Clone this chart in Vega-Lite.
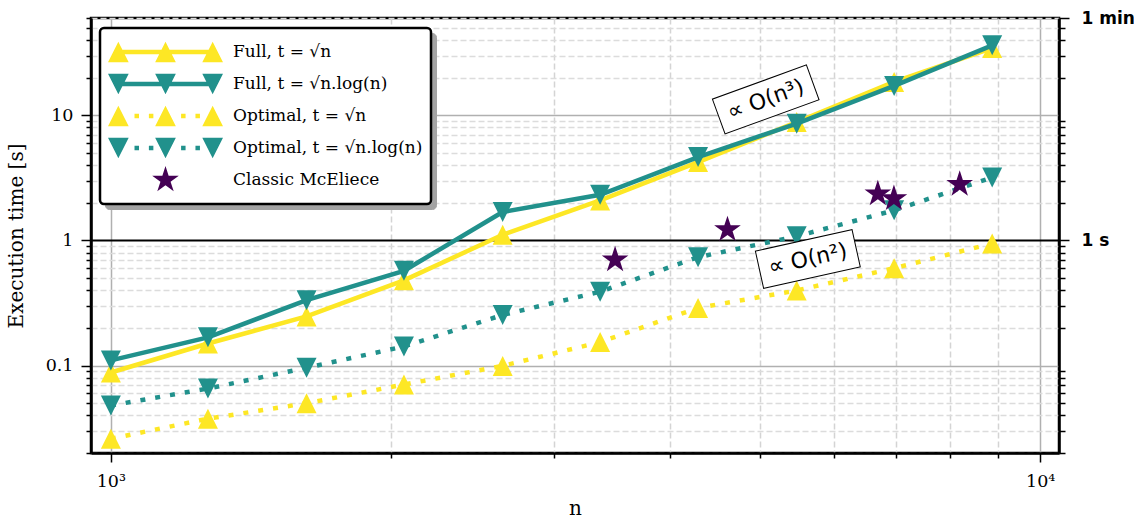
{
  "$schema": "https://vega.github.io/schema/vega-lite/v6.json",
  "width": 968,
  "height": 435,
  "autosize": {"type": "none"},
  "padding": {"left": 91, "top": 18, "right": 75, "bottom": 69},
  "background": "white",
  "config": {
    "view": {"stroke": "black", "strokeWidth": 2.5},
    "font": "DejaVu Serif"
  },
  "datasets": {
    "main": [
      {"n": 1000, "t": 0.088, "series": "Full, t = √n"},
      {"n": 1272, "t": 0.150, "series": "Full, t = √n"},
      {"n": 1624, "t": 0.247, "series": "Full, t = √n"},
      {"n": 2067, "t": 0.48, "series": "Full, t = √n"},
      {"n": 2640, "t": 1.11, "series": "Full, t = √n"},
      {"n": 3361, "t": 2.09, "series": "Full, t = √n"},
      {"n": 4284, "t": 4.23, "series": "Full, t = √n"},
      {"n": 5470, "t": 8.85, "series": "Full, t = √n"},
      {"n": 6963, "t": 18.5, "series": "Full, t = √n"},
      {"n": 8878, "t": 34.5, "series": "Full, t = √n"},
      {"n": 1000, "t": 0.110, "series": "Full, t = √n.log(n)"},
      {"n": 1272, "t": 0.168, "series": "Full, t = √n.log(n)"},
      {"n": 1624, "t": 0.333, "series": "Full, t = √n.log(n)"},
      {"n": 2067, "t": 0.572, "series": "Full, t = √n.log(n)"},
      {"n": 2640, "t": 1.69, "series": "Full, t = √n.log(n)"},
      {"n": 3361, "t": 2.32, "series": "Full, t = √n.log(n)"},
      {"n": 4284, "t": 4.64, "series": "Full, t = √n.log(n)"},
      {"n": 5470, "t": 8.58, "series": "Full, t = √n.log(n)"},
      {"n": 6963, "t": 17.2, "series": "Full, t = √n.log(n)"},
      {"n": 8878, "t": 36.3, "series": "Full, t = √n.log(n)"},
      {"n": 1000, "t": 0.026, "series": "Optimal, t = √n"},
      {"n": 1272, "t": 0.0376, "series": "Optimal, t = √n"},
      {"n": 1624, "t": 0.050, "series": "Optimal, t = √n"},
      {"n": 2067, "t": 0.0705, "series": "Optimal, t = √n"},
      {"n": 2640, "t": 0.0994, "series": "Optimal, t = √n"},
      {"n": 3361, "t": 0.154, "series": "Optimal, t = √n"},
      {"n": 4284, "t": 0.289, "series": "Optimal, t = √n"},
      {"n": 5470, "t": 0.398, "series": "Optimal, t = √n"},
      {"n": 6963, "t": 0.60, "series": "Optimal, t = √n"},
      {"n": 8878, "t": 0.946, "series": "Optimal, t = √n"},
      {"n": 1000, "t": 0.048, "series": "Optimal, t = √n.log(n)"},
      {"n": 1272, "t": 0.0655, "series": "Optimal, t = √n.log(n)"},
      {"n": 1624, "t": 0.096, "series": "Optimal, t = √n.log(n)"},
      {"n": 2067, "t": 0.142, "series": "Optimal, t = √n.log(n)"},
      {"n": 2640, "t": 0.254, "series": "Optimal, t = √n.log(n)"},
      {"n": 3361, "t": 0.389, "series": "Optimal, t = √n.log(n)"},
      {"n": 4284, "t": 0.735, "series": "Optimal, t = √n.log(n)"},
      {"n": 5470, "t": 1.08, "series": "Optimal, t = √n.log(n)"},
      {"n": 6963, "t": 1.74, "series": "Optimal, t = √n.log(n)"},
      {"n": 8878, "t": 3.19, "series": "Optimal, t = √n.log(n)"},
      {"n": 3488, "t": 0.70, "series": "Classic McEliece"},
      {"n": 4608, "t": 1.22, "series": "Classic McEliece"},
      {"n": 6688, "t": 2.36, "series": "Classic McEliece"},
      {"n": 6960, "t": 2.16, "series": "Classic McEliece"},
      {"n": 8192, "t": 2.81, "series": "Classic McEliece"}
    ],
    "notes": [
      {"n": 5066, "t": 13.4, "label": "∝ O(n³)"},
      {"n": 5623, "t": 0.711, "label": "∝ O(n²)"}
    ]
  },
  "data": {"name": "main"},
  "encoding": {
    "x": {
      "field": "n", "type": "quantitative",
      "scale": {"type": "log", "domain": [952, 10477], "nice": false, "zero": false},
      "axis": {
        "values": [1000, 2000, 3000, 4000, 5000, 6000, 7000, 8000, 9000, 10000],
        "labelExpr": "datum.value == 1000 ? '10³' : datum.value == 10000 ? '10⁴' : ''",
        "labelFont": "DejaVu Serif", "labelFontSize": 17.5, "labelColor": "black",
        "labelOverlap": false, "labelFlush": false, "labelPadding": 10,
        "tickColor": "black", "tickWidth": 1.5,
        "tickSize": {"condition": {"test": "datum.value == 1000 || datum.value == 10000", "value": 9}, "value": 5},
        "domainColor": "black", "domainWidth": 2.5,
        "grid": true,
        "gridColor": {"condition": {"test": "datum.value == 1000 || datum.value == 10000", "value": "#b0b0b0"}, "value": "#d4d4d4"},
        "gridDash": {"condition": {"test": "datum.value == 1000 || datum.value == 10000", "value": []}, "value": [6, 3]},
        "gridWidth": 1.5,
        "title": "n", "titleFont": "DejaVu Serif", "titleFontSize": 20, "titleFontWeight": "normal", "titleColor": "black", "titlePadding": 9
      }
    },
    "y": {
      "field": "t", "type": "quantitative",
      "scale": {"type": "log", "domain": [0.02, 60], "nice": false, "zero": false},
      "axis": null
    },
    "color": {
      "field": "series", "type": "nominal",
      "scale": {
        "domain": ["Full, t = √n", "Full, t = √n.log(n)", "Optimal, t = √n", "Optimal, t = √n.log(n)", "Classic McEliece"],
        "range": ["#fde725", "#21918c", "#fde725", "#21918c", "#440154"]
      },
      "legend": {
        "title": null,
        "orient": "none", "legendX": 9, "legendY": 10, "zindex": 2,
        "fillColor": "white", "strokeColor": "black", "cornerRadius": 4,
        "padding": 8,
        "labelFont": "DejaVu Serif", "labelFontSize": 17, "labelColor": "black", "labelOffset": 10, "labelLimit": 400,
        "symbolSize": 13225, "clipHeight": 32, "rowPadding": 0,
        "encode": {
          "legend": {"update": {"strokeWidth": {"value": 2.5}}},
          "symbols": {
            "update": {
              "shape": {"signal": "['M-0.82,-0.039L0.82,-0.039L0.82,0.039L-0.82,0.039Z M-1,0.18L-0.82,-0.18L-0.64,0.18Z M-0.18,0.18L0,-0.18L0.18,0.18Z M0.64,0.18L0.82,-0.18L1,0.18Z', 'M-0.82,-0.039L0.82,-0.039L0.82,0.039L-0.82,0.039Z M-1,-0.18L-0.64,-0.18L-0.82,0.18Z M-0.18,-0.18L0.18,-0.18L0,0.18Z M0.64,-0.18L1,-0.18L0.82,0.18Z', 'M-0.539,-0.039L-0.461,-0.039L-0.461,0.039L-0.539,0.039Z M-0.289,-0.039L-0.211,-0.039L-0.211,0.039L-0.289,0.039Z M0.271,-0.039L0.349,-0.039L0.349,0.039L0.271,0.039Z M0.521,-0.039L0.599,-0.039L0.599,0.039L0.521,0.039Z M-1,0.18L-0.82,-0.18L-0.64,0.18Z M-0.18,0.18L0,-0.18L0.18,0.18Z M0.64,0.18L0.82,-0.18L1,0.18Z', 'M-0.539,-0.039L-0.461,-0.039L-0.461,0.039L-0.539,0.039Z M-0.289,-0.039L-0.211,-0.039L-0.211,0.039L-0.289,0.039Z M0.271,-0.039L0.349,-0.039L0.349,0.039L0.271,0.039Z M0.521,-0.039L0.599,-0.039L0.599,0.039L0.521,0.039Z M-1,-0.18L-0.64,-0.18L-0.82,0.18Z M-0.18,-0.18L0.18,-0.18L0,0.18Z M0.64,-0.18L1,-0.18L0.82,0.18Z', 'M0,-0.243L0.0545,-0.0751L0.2311,-0.0751L0.0883,0.0287L0.1428,0.1966L0,0.0928L-0.1428,0.1966L-0.0883,0.0287L-0.2311,-0.0751L-0.0545,-0.0751Z'][datum.index]"},
              "fill": {"scale": "color", "field": "value"},
              "stroke": {"value": "transparent"},
              "strokeWidth": {"value": 0},
              "strokeDash": {"value": []},
              "size": {"value": 13225},
              "opacity": {"value": 1},
              "fillOpacity": {"value": 1}
            }
          }
        }
      }
    }
  },
  "layer": [
    {
      "data": {"name": "notes"},
      "mark": {"type": "point", "opacity": 0, "size": 1},
      "encoding": {
        "color": {"value": "white"},
        "shape": {
          "field": "label", "type": "nominal",
          "legend": {
            "title": null,
            "orient": "none", "legendX": 14, "legendY": 15, "zindex": 1,
            "fillColor": "#a3a3a3", "strokeColor": "#a3a3a3", "cornerRadius": 4,
            "padding": 0, "labelExpr": "''", "labelOffset": 0, "labelFontSize": 1,
            "symbolSize": 108241, "symbolOpacity": 0, "clipHeight": 88, "rowPadding": 0
          }
        }
      }
    },
    {
      "transform": [{"filter": {"field": "series", "equal": "Full, t = √n"}}],
      "mark": {"type": "line", "strokeWidth": 4.5,
        "point": {"filled": true, "shape": "M0,-1L1,1L-1,1Z", "size": 400, "opacity": 1}},
      "encoding": {
        "y": {
          "field": "t", "type": "quantitative",
          "scale": {"type": "log", "domain": [0.02, 60], "nice": false, "zero": false},
          "axis": {
            "orient": "left",
            "values": [0.02, 0.03, 0.04, 0.05, 0.06, 0.07, 0.08, 0.09, 0.1, 0.2, 0.3, 0.4, 0.5, 0.6, 0.7, 0.8, 0.9, 1, 2, 3, 4, 5, 6, 7, 8, 9, 10, 20, 30, 40, 50, 60],
            "labelExpr": "datum.value == 0.1 ? '0.1' : datum.value == 1 ? '1' : datum.value == 10 ? '10' : ''",
            "labelFont": "DejaVu Serif", "labelFontSize": 17.5, "labelColor": "black",
            "labelOverlap": false, "labelFlush": false, "labelPadding": 8,
            "tickColor": "black", "tickWidth": 1.5,
            "tickSize": {"condition": {"test": "datum.value == 0.1 || datum.value == 1 || datum.value == 10", "value": 10}, "value": 5},
            "domainColor": "black", "domainWidth": 2.5,
            "grid": true,
            "gridColor": {"condition": [
              {"test": "datum.value == 1", "value": "black"},
              {"test": "datum.value == 0.1 || datum.value == 10", "value": "#b0b0b0"}
            ], "value": "#dcdcdc"},
            "gridDash": {"condition": {"test": "datum.value == 0.1 || datum.value == 1 || datum.value == 10", "value": []}, "value": [6, 3]},
            "gridWidth": {"condition": {"test": "datum.value == 1", "value": 2}, "value": 1.5},
            "title": "Execution time [s]", "titleFont": "DejaVu Serif", "titleFontSize": 20, "titleFontWeight": "normal", "titleColor": "black", "titlePadding": 19
          }
        }
      }
    },
    {
      "transform": [{"filter": {"field": "series", "equal": "Full, t = √n.log(n)"}}],
      "mark": {"type": "line", "strokeWidth": 4.5,
        "point": {"filled": true, "shape": "M-1,-1L1,-1L0,1Z", "size": 400, "opacity": 1}}
    },
    {
      "transform": [{"filter": {"field": "series", "equal": "Optimal, t = √n"}}],
      "mark": {"type": "line", "strokeWidth": 4.5, "strokeDash": [5, 10], "strokeCap": "butt",
        "point": {"filled": true, "shape": "M0,-1L1,1L-1,1Z", "size": 400, "opacity": 1}}
    },
    {
      "transform": [{"filter": {"field": "series", "equal": "Optimal, t = √n.log(n)"}}],
      "mark": {"type": "line", "strokeWidth": 4.5, "strokeDash": [5, 10], "strokeCap": "butt",
        "point": {"filled": true, "shape": "M-1,-1L1,-1L0,1Z", "size": 400, "opacity": 1}}
    },
    {
      "transform": [{"filter": {"field": "series", "equal": "Classic McEliece"}}],
      "mark": {"type": "point", "filled": true, "opacity": 1, "size": 784,
        "shape": "M0,-1L0.2245,-0.309L0.951,-0.309L0.3633,0.118L0.588,0.809L0,0.382L-0.588,0.809L-0.3633,0.118L-0.951,-0.309L-0.2245,-0.309Z"},
      "encoding": {
        "y": {
          "field": "t", "type": "quantitative",
          "scale": {"type": "log", "domain": [0.02, 60], "nice": false, "zero": false},
          "axis": {
            "orient": "right",
            "values": [0.02, 0.03, 0.04, 0.05, 0.06, 0.07, 0.08, 0.09, 0.2, 0.3, 0.4, 0.5, 0.6, 0.7, 0.8, 0.9, 1, 2, 3, 4, 5, 6, 7, 8, 9, 20, 30, 40, 50, 60],
            "labelExpr": "datum.value == 60 ? '1 min' : datum.value == 1 ? '1 s' : ''",
            "labelFont": "DejaVu Sans", "labelFontSize": 17, "labelFontWeight": "bold", "labelColor": "black",
            "labelOverlap": false, "labelFlush": false, "labelPadding": 12,
            "tickColor": "black", "tickWidth": 1.5,
            "tickSize": {"condition": {"test": "datum.value == 1 || datum.value == 60", "value": 10}, "value": 6},
            "domainColor": "black", "domainWidth": 2.5,
            "grid": false,
            "title": null
          }
        }
      }
    },
    {
      "data": {"name": "notes"},
      "transform": [{"filter": "datum.label == '∝ O(n³)'"}],
      "layer": [
        {"mark": {"type": "point", "filled": true, "opacity": 1, "stroke": "black", "strokeWidth": 1, "size": 10000, "angle": -20,
          "shape": "M-1,-0.37L1,-0.37L1,0.37L-1,0.37Z"},
         "encoding": {"color": {"value": "white"}}},
        {"mark": {"type": "text", "angle": -20, "font": "DejaVu Sans", "fontSize": 22, "align": "center", "baseline": "middle"},
         "encoding": {"text": {"field": "label"}, "color": {"value": "black"}}}
      ]
    },
    {
      "data": {"name": "notes"},
      "transform": [{"filter": "datum.label == '∝ O(n²)'"}],
      "layer": [
        {"mark": {"type": "point", "filled": true, "opacity": 1, "stroke": "black", "strokeWidth": 1, "size": 9801, "angle": -12.5,
          "shape": "M-1,-0.385L1,-0.385L1,0.385L-1,0.385Z"},
         "encoding": {"color": {"value": "white"}}},
        {"mark": {"type": "text", "angle": -12.5, "font": "DejaVu Sans", "fontSize": 22, "align": "center", "baseline": "middle"},
         "encoding": {"text": {"field": "label"}, "color": {"value": "black"}}}
      ]
    }
  ],
  "resolve": {"axis": {"y": "independent"}}
}
